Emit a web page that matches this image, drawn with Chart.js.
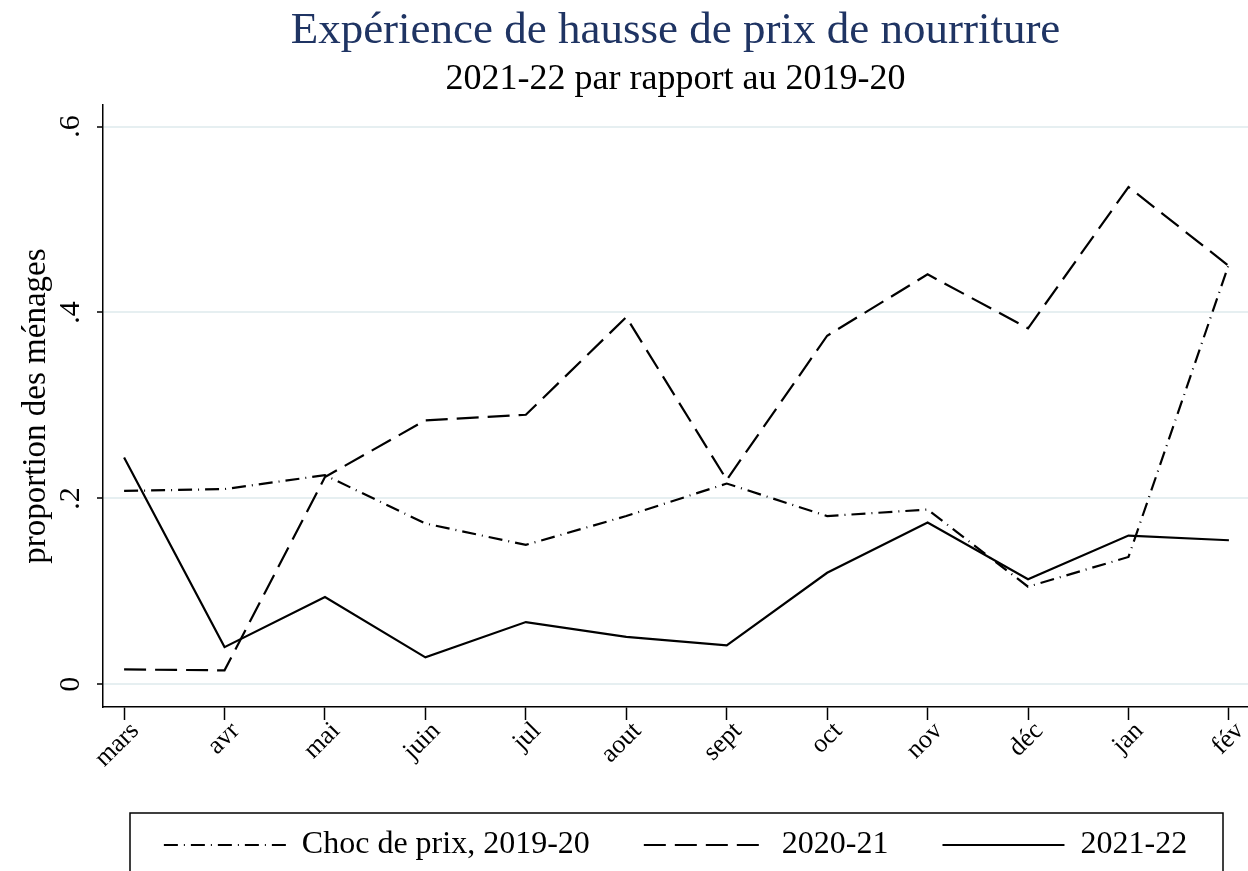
<!DOCTYPE html>
<html>
<head>
<meta charset="utf-8">
<script src="https://cdn.jsdelivr.net/npm/chart.js@4.4.0/dist/chart.umd.min.js"></script>
<style>
  body { margin: 0; background: #fff; }
</style>
</head>
<body>
<canvas id="myChart" width="1248" height="871"></canvas>
<script>
// donnees
var mois = ['mars', 'avr', 'mai', 'juin', 'jul', 'aout', 'sept', 'oct', 'nov', 'déc', 'jan', 'fév'];
var choc1920 = [0.208, 0.210, 0.225, 0.173, 0.150, 0.181, 0.216, 0.181, 0.188, 0.105, 0.137, 0.452];
var serie2021 = [0.016, 0.015, 0.223, 0.284, 0.290, 0.395, 0.220, 0.375, 0.441, 0.383, 0.535, 0.450];
var serie2122 = [0.244, 0.040, 0.094, 0.029, 0.067, 0.051, 0.042, 0.120, 0.174, 0.113, 0.160, 0.155];
var yTicks = [0, 0.2, 0.4, 0.6];
var yLabels = ['0', '.2', '.4', '.6'];

function points(vals) {
    return vals.map(function (v, i) { return { x: i, y: v }; });
}

Chart.defaults.font.family = "'Liberation Serif', 'Times New Roman', serif";
Chart.defaults.color = '#000';

// cadre autour de la legende
var cadreLegende = {
    id: 'cadreLegende',
    afterDraw: function (chart) {
        var lg = chart.legend;
        var c = chart.ctx;
        c.save();
        c.strokeStyle = '#000';
        c.lineWidth = 1.5;
        c.strokeRect(lg.left + 27, lg.top + 38, lg.width - 52, 70);
        c.restore();
    }
};

var ctx = document.getElementById('myChart').getContext('2d');
var myChart = new Chart(ctx,
{
    type: 'line',
    data:
    {
        datasets:
        [
            {
                label: 'Choc de prix, 2019-20',
                data: points(choc1920),
                borderColor: '#000',
                borderWidth: 2.2,
                borderDash: [14, 6, 1, 6]
            },
            {
                label: '2020-21',
                data: points(serie2021),
                borderColor: '#000',
                borderWidth: 2.2,
                borderDash: [22, 9]
            },
            {
                label: '2021-22',
                data: points(serie2122),
                borderColor: '#000',
                borderWidth: 2.2
            }
        ]
    },
    options:
    {
        responsive: false,
        animation: false,
        devicePixelRatio: 1,
        elements: { point: { radius: 0 }, line: { tension: 0 } },
        layout: { padding: 0 },
        plugins:
        {
            title:
            {
                display: true,
                text: 'Expérience de hausse de prix de nourriture',
                color: '#1f3463',
                font: { size: 45, weight: 'normal' },
                padding: { top: 4, bottom: 0 },
                fullSize: false
            },
            subtitle:
            {
                display: true,
                text: '2021-22 par rapport au 2019-20',
                color: '#000',
                font: { size: 36, weight: 'normal' },
                padding: { top: 0, bottom: 4 },
                fullSize: false
            },
            legend:
            {
                position: 'bottom',
                fullSize: false,
                labels:
                {
                    usePointStyle: true,
                    pointStyle: 'line',
                    pointStyleWidth: 122,
                    padding: 54,
                    font: { size: 32 },
                    color: '#000',
                    // le style "point" perd les pointilles, on les remet
                    generateLabels: function (chart) {
                        var items = Chart.defaults.plugins.legend.labels.generateLabels(chart);
                        items.forEach(function (it) {
                            var ds = chart.data.datasets[it.datasetIndex];
                            it.lineDash = ds.borderDash || [];
                            it.lineWidth = ds.borderWidth;
                            it.strokeStyle = ds.borderColor;
                        });
                        return items;
                    }
                }
            },
            tooltip: { enabled: false }
        },
        scales:
        {
            x:
            {
                type: 'linear',
                min: -0.21,
                max: 11.19,
                afterBuildTicks: function (s) {
                    s.ticks = mois.map(function (m, i) { return { value: i }; });
                },
                ticks:
                {
                    callback: function (v) { return mois[v]; },
                    minRotation: 45,
                    maxRotation: 45,
                    autoSkip: false,
                    font: { size: 26 },
                    padding: -4,
                    labelOffset: 11
                },
                grid: { drawOnChartArea: false, tickColor: '#000', tickLength: 13, tickWidth: 1.5 },
                border: { color: '#000', width: 1.5 },
                afterFit: function (s) {
                    s.height = 68;
                    s.paddingLeft = 0;
                    s.paddingRight = 0;
                }
            },
            y:
            {
                min: -0.0244,
                max: 0.623,
                afterBuildTicks: function (s) {
                    s.ticks = yTicks.map(function (v) { return { value: v }; });
                },
                ticks:
                {
                    callback: function (v, i) { return yLabels[i]; },
                    minRotation: 90,
                    maxRotation: 90,
                    crossAlign: 'center',
                    font: { size: 30 },
                    padding: 15
                },
                grid: { color: '#e6eff1', lineWidth: 2, tickColor: '#000', tickLength: 6, tickWidth: 1.5 },
                border: { color: '#000', width: 1.5 },
                title:
                {
                    display: true,
                    text: 'proportion des ménages',
                    font: { size: 33 },
                    padding: { top: 17, bottom: 0 }
                },
                afterFit: function (s) {
                    s.width = 103;
                    s.paddingTop = 0;
                    s.paddingBottom = 0;
                }
            }
        }
    },
    plugins: [cadreLegende]
});
</script>
</body>
</html>
